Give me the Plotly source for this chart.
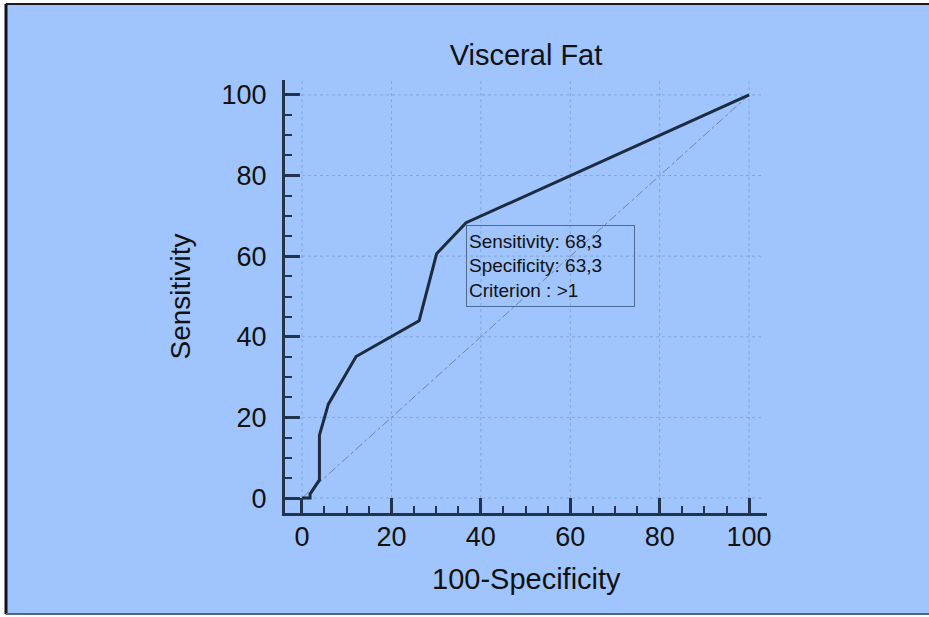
import plotly.graph_objects as go

# ROC curve
fpr = [0, 1.8, 1.8, 3.9, 3.9, 5.9, 12.1, 26.2, 30.1, 36.7, 100]
tpr = [0, 0, 1.0, 4.5, 15.6, 23.3, 35.1, 44.0, 60.6, 68.3, 100]

# reference diagonal
diag_x = [0, 100]
diag_y = [0, 100]

tick_vals = [0, 20, 40, 60, 80, 100]
tick_text = ["0", "20", "40", "60", "80", "100"]

title_text = "Visceral Fat"
x_title = "100-Specificity"
y_title = "Sensitivity"
box_lines = ["Sensitivity: 68,3", "Specificity: 63,3", "Criterion : >1"]
box_point = (36.7, 68.3)

BG = "#9fc4fe"
AX = "#22344c"
FONT = "Liberation Sans, Arial, sans-serif"
GRID = "rgba(90,120,170,0.4)"

fig = go.Figure()
fig.add_trace(go.Scatter(x=diag_x, y=diag_y, mode="lines",
                         line=dict(color="#6a86b4", width=1, dash="dashdot"),
                         hoverinfo="skip", showlegend=False))
fig.add_trace(go.Scatter(x=fpr, y=tpr, mode="lines",
                         line=dict(color="#1d2b3e", width=3),
                         showlegend=False))


def px_x(p):
    return (p - 285) / 482


def px_y(p):
    return (513 - p) / 433


shapes = []
# white outer margins (left, top, bottom) on a blue page
for x0, x1, y0, y1 in [(-5, 5, -5, 625), (-5, 940, -5, 3), (-5, 940, 615, 625)]:
    shapes.append(dict(type="rect", xref="paper", yref="paper",
                       x0=px_x(x0), x1=px_x(x1), y0=px_y(y1), y1=px_y(y0),
                       fillcolor="white", line=dict(width=0), layer="below"))
# border lines on left/top/bottom
shapes.append(dict(type="line", xref="paper", yref="paper",
                   x0=px_x(6), x1=px_x(940), y0=px_y(4), y1=px_y(4),
                   line=dict(color="#1a1a1a", width=2), layer="below"))
shapes.append(dict(type="line", xref="paper", yref="paper",
                   x0=px_x(6), x1=px_x(6), y0=px_y(614), y1=px_y(4),
                   line=dict(color="#111111", width=3), layer="below"))
shapes.append(dict(type="line", xref="paper", yref="paper",
                   x0=px_x(6), x1=px_x(940), y0=px_y(614), y1=px_y(614),
                   line=dict(color="#4f6688", width=2), layer="below"))
# gridlines within data range
for v in tick_vals:
    shapes.append(dict(type="line", xref="x", yref="y", x0=0, x1=103, y0=v, y1=v,
                       line=dict(color=GRID, width=1, dash="dot"), layer="below"))
    shapes.append(dict(type="line", xref="x", yref="y", x0=v, x1=v, y0=0, y1=103.5,
                       line=dict(color=GRID, width=1, dash="dot"), layer="below"))

axis_common = dict(
    showgrid=False, zeroline=False, showline=True, linecolor=AX, linewidth=3,
    ticks="inside", ticklen=15, tickwidth=2.5, tickcolor=AX,
    tickvals=tick_vals, ticktext=tick_text,
    tickfont=dict(family=FONT, size=27, color="#111111"),
    minor=dict(dtick=5, tick0=0, ticks="inside", ticklen=7, tickwidth=2,
               tickcolor=AX, showgrid=False),
)

fig.update_layout(
    width=929, height=617,
    margin=dict(l=285, r=162, t=80, b=104),
    paper_bgcolor=BG, plot_bgcolor=BG,
    shapes=shapes,
    title=dict(text=title_text, x=526 / 929, xanchor="center",
               y=1 - 55 / 617, yanchor="middle",
               font=dict(family=FONT, size=29, color="#111111")),
    xaxis=dict(range=[-3.8, 104], ticklabelstandoff=-2, **axis_common),
    yaxis=dict(range=[-3.7, 103.7], ticklabelstandoff=10, **axis_common),
    annotations=[
        dict(text=x_title, xref="paper", yref="paper", x=0.5, y=px_y(579),
             xanchor="center", yanchor="middle", showarrow=False,
             font=dict(family=FONT, size=29, color="#111111")),
        dict(text=y_title, xref="paper", yref="paper", x=px_x(180), y=0.5,
             xanchor="center", yanchor="middle", textangle=-90, showarrow=False,
             font=dict(family=FONT, size=28, color="#111111")),
        dict(text="<br>".join(box_lines), xref="x", yref="y",
             x=box_point[0], y=box_point[1] - 0.5, xanchor="left", yanchor="top",
             align="left", valign="middle", width=163, height=76,
             showarrow=False, bordercolor="#4d6b92", borderwidth=1, borderpad=2,
             font=dict(family=FONT, size=19, color="#111111")),
    ],
)

fig.write_html("out.html")
